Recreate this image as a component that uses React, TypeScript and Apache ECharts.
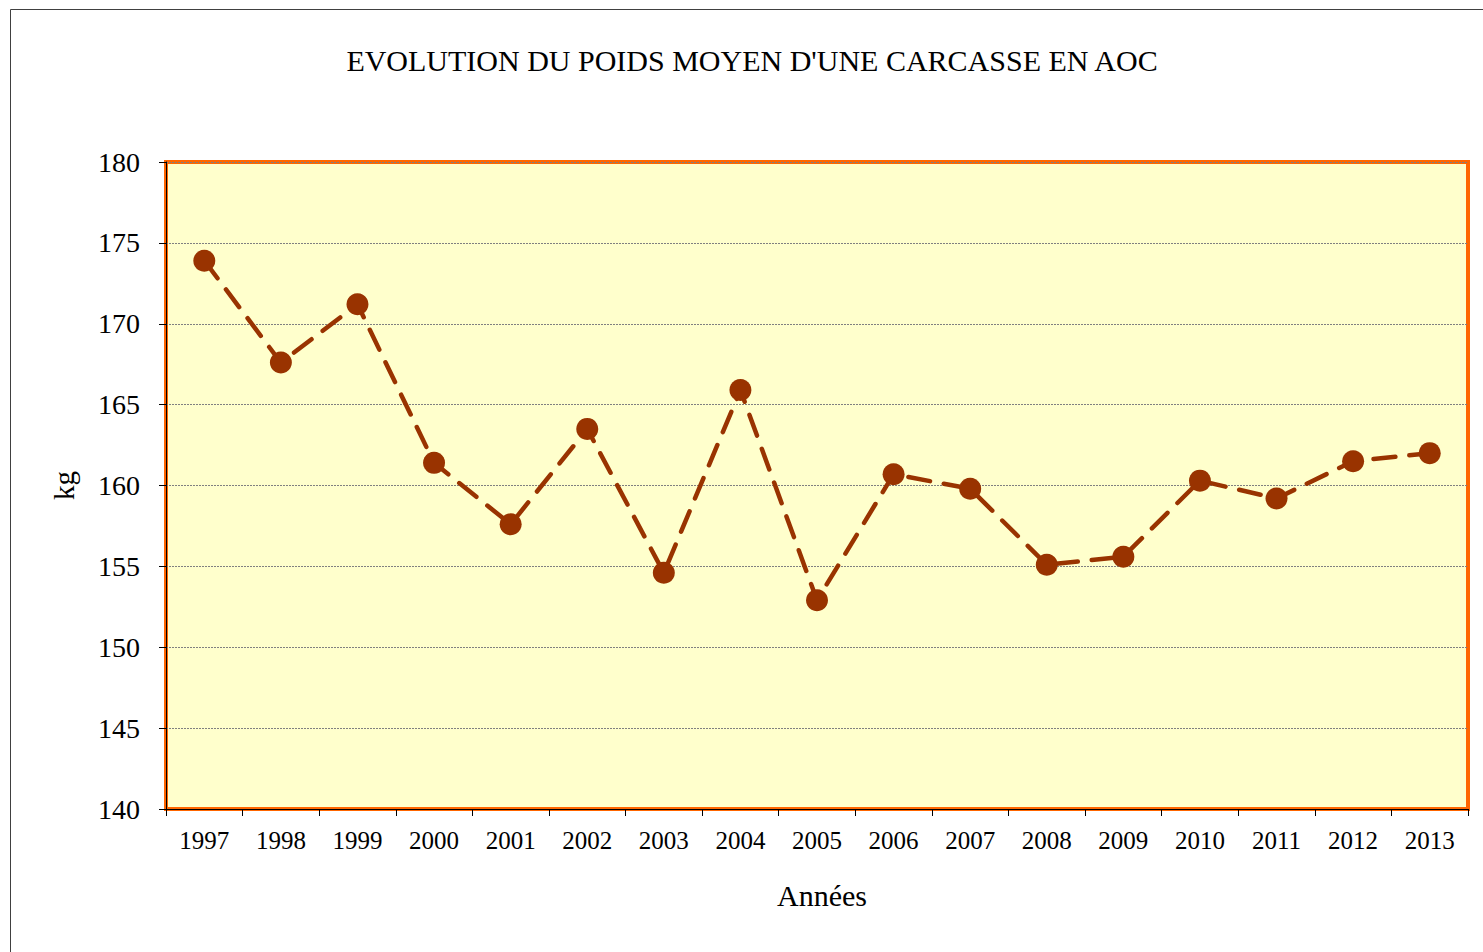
import React, { useEffect, useRef } from "react";
import * as echarts from "echarts";

const years = ["1997","1998","1999","2000","2001","2002","2003","2004","2005","2006","2007","2008","2009","2010","2011","2012","2013"];
const weights = [173.9,167.6,171.2,161.4,157.6,163.5,154.6,165.9,152.9,160.7,159.8,155.1,155.6,160.3,159.2,161.5,162.0];
const titleText = "EVOLUTION DU POIDS MOYEN D'UNE CARCASSE EN AOC";
const xName = "Années";
const yName = "kg";

const FONT = "'Liberation Serif', 'Times New Roman', serif";

export default function App() {
  const ref = useRef<HTMLDivElement>(null);
  useEffect(() => {
    if (!ref.current) return;
    const chart = echarts.init(ref.current, null, { renderer: "svg" });
    chart.setOption({
      animation: false,
      backgroundColor: "#ffffff",
      title: {
        text: titleText,
        left: 747,
        top: 40,
        textAlign: "center",
        textStyle: { fontFamily: FONT, fontSize: 30, fontWeight: "normal", color: "#000" },
      },
      graphic: [
        {
          type: "rect",
          shape: { x: 10.5, y: 9.5, width: 1480, height: 960 },
          style: { fill: "none", stroke: "#404040", lineWidth: 1 },
          silent: true,
        },
      ],
      grid: {
        left: 166,
        top: 162,
        width: 1302,
        height: 647,
        show: true,
        backgroundColor: "#FFFFCC",
        borderColor: "#FF6600",
        borderWidth: 4,
        containLabel: false,
      },
      xAxis: {
        type: "category",
        data: years,
        boundaryGap: true,
        name: xName,
        nameLocation: "middle",
        nameGap: 71,
        nameTextStyle: { fontFamily: FONT, fontSize: 30, color: "#000", padding: [0, 0, 0, 10] },
        axisLine: { show: true, lineStyle: { color: "#000", width: 1 } },
        axisTick: { show: true, alignWithLabel: false, length: 7, lineStyle: { color: "#000" } },
        axisLabel: { fontFamily: FONT, fontSize: 25, color: "#000", margin: 19, interval: 0 },
        splitLine: { show: false },
      },
      yAxis: {
        type: "value",
        min: 140,
        max: 180,
        interval: 5,
        name: yName,
        nameLocation: "middle",
        nameGap: 88,
        nameRotate: 90,
        nameTextStyle: { fontFamily: FONT, fontSize: 29, color: "#000" },
        axisLine: { show: true, lineStyle: { color: "#000", width: 1 } },
        axisTick: { show: true, length: 7, lineStyle: { color: "#000" } },
        axisLabel: { fontFamily: FONT, fontSize: 28, color: "#000", margin: 26 },
        splitLine: { show: true, lineStyle: { color: "#808080", type: [2, 1], width: 1 } },
      },
      series: [
        {
          type: "line",
          data: weights,
          symbol: "circle",
          symbolSize: 22,
          itemStyle: { color: "#993300" },
          lineStyle: { color: "#993300", width: 4.5, type: [22, 14], cap: "round" },
          z: 3,
        },
      ],
    });
    return () => chart.dispose();
  }, []);
  return (
    <div
      ref={ref}
      style={{ position: "fixed", left: 0, top: 0, width: 1483, height: 952 }}
    />
  );
}
